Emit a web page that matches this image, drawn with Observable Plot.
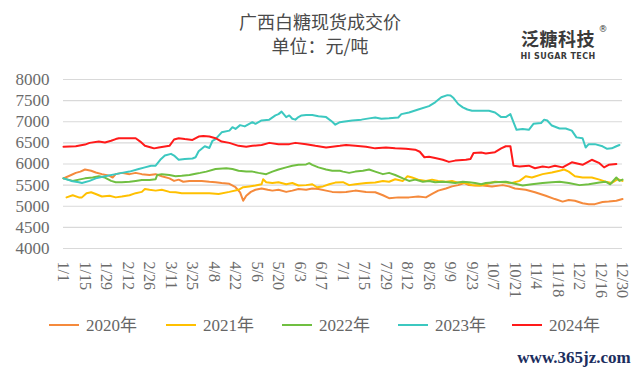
<!DOCTYPE html>
<html><head><meta charset="utf-8">
<script src="https://cdn.jsdelivr.net/npm/d3@7"></script>
<script src="https://cdn.jsdelivr.net/npm/@observablehq/plot@0.6"></script>
<style>
body{margin:0;background:#fff;}
#wrap{position:relative;width:640px;height:371px;overflow:hidden;background:#fff;}
.t{position:absolute;white-space:nowrap;line-height:1;transform:translate(-50%,-50%);}
.cjk{font-family:"Noto Sans CJK SC",sans-serif;}
.leg{position:absolute;top:325px;height:0;}
.sw{position:absolute;top:-1px;width:30px;height:2px;}
.lt{position:absolute;left:37px;top:0;transform:translateY(-50%);white-space:nowrap;line-height:1;font-family:"Liberation Serif","Noto Sans CJK SC",serif;font-size:17px;color:#666;}
</style></head><body><div id="wrap"></div>
<script>
const years = ["2020年","2021年","2022年","2023年","2024年"];
const colors = ["#F58A3C","#FFC000","#70BF41","#3CC8C0","#FF1A1A"];
const yTicks = [4000,4500,5000,5500,6000,6500,7000,7500,8000];
const tickLabels = ["1/1","1/15","1/29","2/12","2/26","3/11","3/25","4/8","4/22","5/6","5/20","6/3","6/17","7/1","7/15","7/29","8/12","8/26","9/9","9/23","10/7","10/21","11/4","11/18","12/2","12/16","12/30"];
const tickDays = tickLabels.map((_, i) => i * 14);

const d2020 = [0,5,8,11,14,18,21,25,30,32,34,38,43,47,51,56,60,64,69,72,75,78,82,86,90,95,99,103,108,112,115,117,119,122,125,129,133,136,140,145,149,153,158,162,166,171,175,180,184,190,197,203,208,212,218,225,231,236,240,244,249,253,257,261,264,268,273,279,286,290,294,301,307,314,320,325,329,333,338,342,346,351,355,360,364];
const p2020 = [5660,5740,5790,5820,5870,5840,5800,5760,5720,5680,5760,5790,5760,5790,5760,5740,5760,5710,5660,5600,5630,5580,5600,5600,5600,5580,5570,5550,5530,5450,5330,5130,5250,5340,5390,5420,5390,5370,5390,5340,5370,5410,5390,5420,5410,5370,5340,5330,5340,5370,5340,5330,5260,5190,5210,5210,5230,5210,5290,5370,5420,5470,5500,5550,5500,5490,5490,5470,5500,5470,5420,5390,5330,5250,5170,5110,5150,5130,5070,5050,5050,5100,5110,5130,5170];

const d2021 = [2,6,10,12,15,18,21,25,30,34,38,43,47,51,53,56,60,64,69,73,77,82,86,95,101,108,114,117,121,125,129,130,132,136,140,145,149,153,158,162,165,169,173,177,182,186,190,197,203,208,212,216,221,224,227,231,236,240,244,249,253,257,262,266,271,275,281,288,292,297,301,305,312,318,323,326,329,333,338,344,349,353,357,361,364];
const p2021 = [5210,5260,5210,5210,5310,5330,5290,5230,5250,5210,5230,5260,5310,5340,5410,5390,5370,5390,5340,5330,5310,5310,5310,5310,5290,5340,5390,5450,5470,5490,5520,5640,5570,5550,5570,5520,5550,5490,5500,5520,5450,5470,5520,5560,5570,5500,5520,5550,5560,5600,5580,5640,5600,5710,5680,5630,5600,5630,5600,5580,5600,5560,5550,5500,5490,5520,5580,5560,5550,5600,5710,5680,5760,5800,5840,5870,5820,5710,5680,5680,5630,5580,5550,5640,5600];

const d2022 = [0,6,10,14,19,23,27,31,34,38,43,47,51,56,60,61,64,69,73,77,82,86,89,93,99,106,110,114,119,123,127,132,136,140,145,149,153,158,160,162,166,171,175,180,182,186,190,195,199,203,208,212,216,221,225,229,234,238,242,247,251,255,260,264,268,272,275,281,288,292,299,305,312,318,323,329,336,342,349,353,356,360,362,364];
const p2022 = [5660,5600,5630,5660,5680,5710,5680,5600,5570,5570,5580,5600,5620,5620,5640,5740,5760,5740,5710,5720,5740,5770,5790,5820,5880,5900,5880,5840,5820,5820,5790,5760,5820,5870,5920,5960,5980,5990,6020,5980,5920,5870,5840,5840,5820,5790,5820,5840,5870,5820,5760,5790,5740,5660,5600,5630,5580,5600,5570,5580,5570,5550,5580,5570,5550,5520,5550,5570,5580,5550,5490,5520,5550,5570,5580,5550,5500,5520,5560,5580,5520,5680,5600,5630];

const d2023 = [0,5,10,12,17,21,27,34,38,43,49,53,57,60,63,66,70,72,75,79,84,86,88,90,92,95,97,99,103,108,110,112,115,118,123,125,129,134,138,140,142,145,147,149,151,153,155,158,162,166,171,175,177,180,182,188,194,199,203,207,212,218,220,225,231,238,242,246,250,252,254,257,260,263,266,272,277,281,285,288,291,293,295,299,303,306,311,313,315,318,323,327,331,334,338,340,342,346,351,354,357,360,362];
const p2023 = [5660,5600,5570,5550,5600,5660,5710,5760,5790,5820,5880,5920,5960,5960,6100,6200,6240,6200,6100,6120,6130,6160,6300,6360,6420,6380,6550,6590,6750,6790,6870,6830,6920,6890,6990,6950,7030,7050,7150,7180,7240,7110,7150,7070,7050,7110,7150,7160,7160,7130,7110,7000,6930,6990,7000,7030,7050,7080,7100,7070,7080,7100,7180,7220,7290,7370,7460,7580,7630,7620,7560,7420,7340,7290,7260,7260,7260,7220,7110,7110,7180,6990,6810,6830,6810,6950,6970,7050,7030,6910,6840,6840,6790,6630,6610,6390,6470,6470,6420,6360,6370,6420,6450];

const d2024 = [0,8,14,17,23,27,31,34,36,47,50,53,57,59,62,69,72,75,79,84,88,91,95,99,103,108,114,119,123,129,134,140,147,151,158,164,171,175,180,184,190,197,203,210,216,223,229,232,235,238,242,247,251,255,262,265,267,272,275,281,285,288,291,293,297,303,307,312,316,320,325,331,338,344,349,352,355,360];
const p2024 = [6410,6420,6460,6500,6530,6510,6550,6590,6610,6610,6530,6430,6390,6370,6390,6430,6580,6610,6590,6570,6650,6660,6650,6610,6530,6500,6430,6410,6430,6450,6500,6470,6470,6500,6470,6430,6390,6410,6430,6450,6430,6410,6370,6390,6370,6360,6340,6290,6160,6170,6140,6100,6050,6080,6100,6120,6260,6270,6250,6280,6370,6420,6420,5960,5940,5960,5900,5940,5920,5960,5920,6040,5980,6100,6020,5920,5980,6000];

const seriesDays = [d2020, d2021, d2022, d2023, d2024];
const seriesVals = [p2020, p2021, p2022, p2023, p2024];
const rows = [];
years.forEach((y, k) => {
  const ds = seriesDays[k], vs = seriesVals[k];
  for (let i = 0; i < Math.min(ds.length, vs.length); i++) rows.push({year: y, day: ds[i], price: vs[i]});
});

const font = '"Liberation Serif","Noto Sans CJK SC",serif';
const chart = Plot.plot({
  width: 640, height: 371,
  marginTop: 79, marginBottom: 123, marginLeft: 63, marginRight: 18,
  style: {fontFamily: font, background: "transparent", color: "#666", overflow: "visible"},
  x: {domain: [0, 364], axis: null},
  y: {domain: [4000, 8000], axis: null},
  color: {domain: years, range: colors},
  marks: [
    Plot.ruleY(yTicks, {stroke: "#d9d9d9", strokeWidth: 1.2}),
    Plot.axisY(yTicks, {tickSize: 0, tickPadding: 14, fontSize: 17, fill: "#6b6b6b", label: null, tickFormat: d => String(d)}),
    Plot.axisX(tickDays, {tickSize: 0, tickPadding: 13, tickRotate: 90, fontSize: 16, fill: "#6b6b6b", tickFormat: d => tickLabels[Math.round(d / 14)], label: null}),
    Plot.line(rows, {x: "day", y: "price", z: "year", stroke: "year", strokeWidth: 2, strokeLinejoin: "round"})
  ]
});
const wrap = document.getElementById("wrap");
wrap.appendChild(chart);

function addText(txt, x, y, css, cls) {
  const d = document.createElement("div");
  d.className = "t " + (cls || "");
  d.textContent = txt;
  d.style.left = x + "px"; d.style.top = y + "px";
  Object.assign(d.style, css);
  wrap.appendChild(d);
  return d;
}
addText("广西白糖现货成交价", 320, 21, {fontSize: "18px", color: "#4a4a4a"}, "cjk");
addText("单位：元/吨", 320, 45, {fontSize: "18px", color: "#4a4a4a"}, "cjk");
addText("泛糖科技", 558, 38, {fontSize: "18px", color: "#3a3a3a", fontWeight: "bold", letterSpacing: "0.5px"}, "cjk");
addText("®", 603, 29, {fontSize: "9px", color: "#3a3a3a", fontFamily: "DejaVu Sans"});
addText("HI SUGAR TECH", 558, 56.5, {fontSize: "8px", color: "#3a3a3a", fontWeight: "bold", fontFamily: "DejaVu Sans", letterSpacing: "0.4px"});
addText("www.365jz.com", 574, 357, {fontSize: "17px", color: "#1c2e5e", fontFamily: "Liberation Serif", fontWeight: "bold"});

const legX = [49, 166, 282, 398, 512];
years.forEach((y, k) => {
  const g = document.createElement("div");
  g.className = "leg"; g.style.left = legX[k] + "px";
  const s = document.createElement("div"); s.className = "sw"; s.style.background = colors[k];
  const t = document.createElement("div"); t.className = "lt"; t.textContent = y;
  g.appendChild(s); g.appendChild(t); wrap.appendChild(g);
});
</script>
</body></html>
